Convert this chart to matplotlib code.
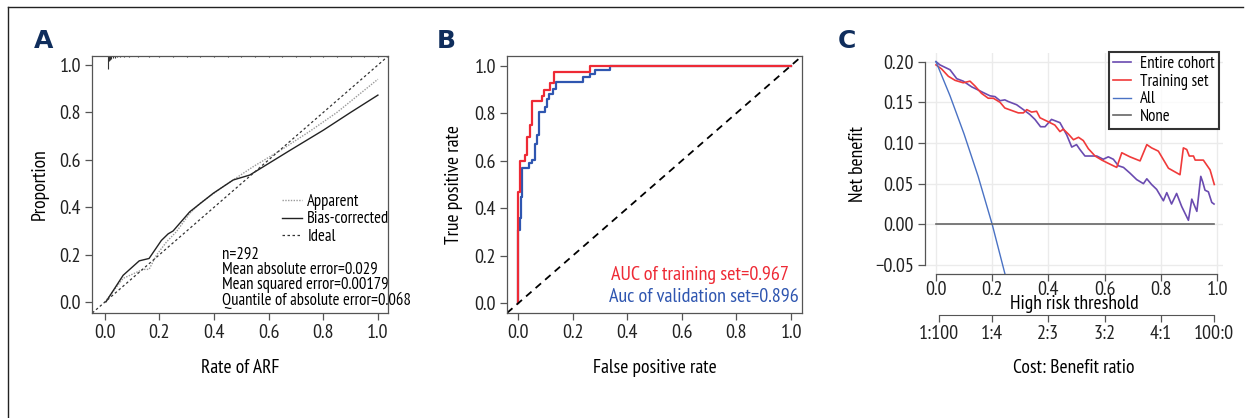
import matplotlib
matplotlib.use('Agg')
import matplotlib.pyplot as plt
from matplotlib.lines import Line2D
import numpy as np

plt.rcParams['font.family'] = ['PT Sans Narrow', 'Roboto Condensed', 'IBM Plex Sans Condensed', 'DejaVu Sans']

# ---- Panel A: calibration curve ----
apparent_x = [0.0, 0.067, 0.14, 0.162, 0.189, 0.226, 0.262, 0.311, 0.348, 0.433, 0.543, 0.65, 0.75, 0.85, 1.0]
apparent_y = [0.0, 0.10, 0.138, 0.138, 0.198, 0.254, 0.297, 0.374, 0.416, 0.487, 0.571, 0.645, 0.72, 0.80, 0.94]
biascorr_x = [0.004, 0.067, 0.126, 0.162, 0.207, 0.232, 0.25, 0.311, 0.397, 0.47, 0.531, 0.678, 0.80, 0.90, 1.0]
biascorr_y = [0.001, 0.113, 0.174, 0.184, 0.26, 0.288, 0.30, 0.381, 0.459, 0.515, 0.536, 0.64, 0.725, 0.80, 0.873]
rug_x = [0.012, 0.016, 0.02, 0.024, 0.03, 0.036, 0.045, 0.055, 0.07, 0.09, 0.12, 0.16, 0.2, 0.25, 0.3,
         0.35, 0.4, 0.45, 0.5, 0.55, 0.6, 0.65, 0.7, 0.75, 0.8, 0.85, 0.9, 0.95, 1.0]
rug_len = [0.055, 0.02, 0.015, 0.012, 0.01, 0.008, 0.006, 0.006, 0.005, 0.005, 0.004, 0.004, 0.004, 0.004, 0.004,
           0.004, 0.004, 0.004, 0.004, 0.004, 0.004, 0.004, 0.004, 0.004, 0.004, 0.004, 0.004, 0.004, 0.004]
calib_stats = ['n=292', 'Mean absolute error=0.029', 'Mean squared error=0.00179',
               'Quantile of absolute error=0.068']

# ---- Panel B: ROC curves ----
train_fpr = [0.0, 0.0, 0.009, 0.009, 0.027, 0.027, 0.035, 0.035, 0.044, 0.044, 0.050, 0.050, 0.087, 0.087, 0.095,
             0.095, 0.118, 0.118, 0.131, 0.131, 0.263, 0.263, 1.0]
train_tpr = [0.0, 0.47, 0.47, 0.60, 0.60, 0.623, 0.623, 0.70, 0.70, 0.749, 0.749, 0.851, 0.851, 0.874, 0.874,
             0.898, 0.898, 0.926, 0.926, 0.972, 0.972, 1.0, 1.0]
valid_fpr = [0.0, 0.0, 0.006, 0.006, 0.011, 0.011, 0.016, 0.016, 0.039, 0.039, 0.05, 0.05, 0.062, 0.062, 0.068,
             0.068, 0.078, 0.078, 0.1, 0.1, 0.105, 0.105, 0.114, 0.114, 0.13, 0.13, 0.141, 0.141, 0.238, 0.238,
             0.263, 0.263, 0.282, 0.282, 0.338, 0.338, 1.0]
valid_tpr = [0.0, 0.31, 0.31, 0.358, 0.358, 0.449, 0.449, 0.568, 0.568, 0.589, 0.589, 0.605, 0.605, 0.669, 0.669,
             0.707, 0.707, 0.805, 0.805, 0.826, 0.826, 0.861, 0.861, 0.882, 0.882, 0.90, 0.90, 0.93, 0.93, 0.951,
             0.951, 0.965, 0.965, 0.98, 0.98, 1.0, 1.0]

# ---- Panel C: decision curve ----
cohort_x = [0.0, 0.014, 0.05, 0.074, 0.097, 0.127, 0.145, 0.168, 0.192, 0.21, 0.228, 0.245, 0.257, 0.287, 0.311,
            0.334, 0.352, 0.372, 0.388, 0.411, 0.441, 0.465, 0.483, 0.5, 0.512, 0.53, 0.548, 0.572, 0.595, 0.613,
            0.631, 0.649, 0.667, 0.69, 0.714, 0.738, 0.75, 0.767, 0.785, 0.809, 0.821, 0.838, 0.856, 0.874, 0.898,
            0.91, 0.928, 0.942, 0.949, 0.957, 0.969, 0.981, 0.989]
cohort_y = [0.2, 0.196, 0.19, 0.179, 0.176, 0.169, 0.166, 0.162, 0.158, 0.157, 0.152, 0.153, 0.151, 0.147, 0.141,
            0.135, 0.129, 0.12, 0.12, 0.129, 0.125, 0.11, 0.095, 0.098, 0.092, 0.084, 0.084, 0.084, 0.08, 0.083,
            0.08, 0.072, 0.070, 0.063, 0.055, 0.050, 0.056, 0.049, 0.043, 0.029, 0.039, 0.025, 0.038, 0.022, 0.005,
            0.031, 0.016, 0.059, 0.052, 0.042, 0.040, 0.027, 0.025]
train_x = [0.0, 0.02, 0.044, 0.068, 0.097, 0.121, 0.139, 0.162, 0.186, 0.204, 0.228, 0.245, 0.269, 0.293, 0.311,
           0.323, 0.34, 0.358, 0.37, 0.4, 0.423, 0.441, 0.453, 0.471, 0.489, 0.507, 0.524, 0.542, 0.566, 0.59,
           0.613, 0.643, 0.661, 0.69, 0.726, 0.75, 0.767, 0.791, 0.827, 0.868, 0.88, 0.892, 0.901, 0.916, 0.922,
           0.951, 0.975, 0.99]
train_y = [0.196, 0.191, 0.182, 0.177, 0.174, 0.176, 0.170, 0.161, 0.155, 0.155, 0.150, 0.143, 0.140, 0.137, 0.137,
           0.141, 0.138, 0.139, 0.131, 0.126, 0.122, 0.114, 0.117, 0.111, 0.104, 0.107, 0.103, 0.093, 0.084, 0.079,
           0.075, 0.070, 0.088, 0.083, 0.078, 0.098, 0.094, 0.090, 0.069, 0.061, 0.094, 0.092, 0.084, 0.084, 0.079,
           0.079, 0.067, 0.049]
all_x = [0.0, 0.05, 0.1, 0.15, 0.2, 0.25]
all_y = [0.2, 0.158, 0.111, 0.059, 0.0, -0.067]
none_x = [0.0, 0.99]
none_y = [0.0, 0.0]
ratio_ticks = [0.01, 0.2, 0.4, 0.6, 0.8, 0.99]
ratio_labels = ['1:100', '1:4', '2:3', '3:2', '4:1', '100:0']

W, H = 1246, 418
fig = plt.figure(figsize=(W / 100, H / 100), dpi=100)

def px_axes(left, top, right, bottom):
    return fig.add_axes([left / W, 1 - bottom / H, (right - left) / W, (bottom - top) / H])

tick_fs = 14.5
label_fs = 14
small_fs = 12
frame_col = '#555555'
navy = '#0f2d5c'

def r_style(ax):
    for s in ax.spines.values():
        s.set_color(frame_col)
        s.set_linewidth(0.9)
    ax.tick_params(direction='out', length=5, width=0.9, color=frame_col, labelsize=tick_fs,
                   labelcolor='#222222', pad=3)

# ---------- A ----------
ax1 = px_axes(92, 56, 388, 313)
r_style(ax1)
ax1.plot(apparent_x, apparent_y, color='#9a9a9a', lw=1.0, ls=(0, (1, 1)), label='Apparent')
ax1.plot(biascorr_x, biascorr_y, color='#222222', lw=1.0, label='Bias-corrected')
ax1.axline((0, 0), (1, 1), color='#333333', lw=0.9, ls=(0, (2, 2)), label='Ideal')
ax1.set_xlim(-0.047, 1.037)
ax1.set_ylim(-0.046, 1.038)
top = ax1.get_ylim()[1]
ax1.vlines(rug_x, [top - l for l in rug_len], top, color='#333333', lw=0.8)
ax1.set_xticks([0, 0.2, 0.4, 0.6, 0.8, 1.0])
ax1.set_yticks([0, 0.2, 0.4, 0.6, 0.8, 1.0])
ax1.xaxis.set_major_formatter(matplotlib.ticker.FormatStrFormatter('%.1f'))
ax1.yaxis.set_major_formatter(matplotlib.ticker.FormatStrFormatter('%.1f'))
ax1.set_xlabel('Rate of ARF', fontsize=label_fs, labelpad=12)
ax1.set_ylabel('Proportion', fontsize=label_fs, labelpad=8)
ax1.legend(loc='upper left', bbox_to_anchor=(0.615, 0.495), frameon=False, fontsize=small_fs,
           handlelength=1.2, handletextpad=0.3, labelspacing=0.08, borderpad=0)
ax1.text(0.439, 0.015, '\n'.join(calib_stats), transform=ax1.transAxes, fontsize=small_fs,
         va='bottom', ha='left', linespacing=0.92)

# ---------- B ----------
ax2 = px_axes(507, 56, 802, 313)
r_style(ax2)
ax2.plot(valid_fpr, valid_tpr, color='#2f56b0', lw=1.6)
ax2.plot(train_fpr, train_tpr, color='#ee2a35', lw=1.6)
ax2.axline((0, 0), (1, 1), color='black', lw=1.3, ls=(0, (4, 3)))
ax2.set_xlim(-0.04, 1.04)
ax2.set_ylim(-0.04, 1.04)
ax2.set_xticks([0, 0.2, 0.4, 0.6, 0.8, 1.0])
ax2.set_yticks([0, 0.2, 0.4, 0.6, 0.8, 1.0])
ax2.xaxis.set_major_formatter(matplotlib.ticker.FormatStrFormatter('%.1f'))
ax2.yaxis.set_major_formatter(matplotlib.ticker.FormatStrFormatter('%.1f'))
ax2.set_xlabel('False positive rate', fontsize=label_fs, labelpad=12)
ax2.set_ylabel('True positive rate', fontsize=label_fs, labelpad=8)
ax2.text(0.955, 0.148, 'AUC of training set=0.967', transform=ax2.transAxes, color='#ee2a35',
         fontsize=tick_fs, ha='right', va='center')
ax2.text(0.99, 0.062, 'Auc of validation set=0.896', transform=ax2.transAxes, color='#2f56b0',
         fontsize=tick_fs, ha='right', va='center')

# ---------- C ----------
ax3 = px_axes(925, 53, 1223, 274)
r_style(ax3)
ax3.grid(True, color='#ebebeb', lw=1.0)
ax3.set_axisbelow(True)
ax3.plot(cohort_x, cohort_y, color='#6a4bb0', lw=1.2, label='Entire cohort')
ax3.plot(train_x, train_y, color='#f03a3a', lw=1.2, label='Training set')
ax3.plot(all_x, all_y, color='#4a72c4', lw=1.0, label='All')
ax3.plot(none_x, none_y, color='#666666', lw=1.2, label='None')
ax3.set_xlim(-0.039, 1.021)
ax3.set_ylim(-0.061, 0.2106)
ax3.spines['top'].set_visible(False)
ax3.spines['right'].set_visible(False)
ax3.spines['left'].set_bounds(-0.05, 0.20)
ax3.spines['bottom'].set_bounds(0, 1)
ax3.set_xticks([0, 0.2, 0.4, 0.6, 0.8, 1.0])
ax3.set_yticks([-0.05, 0, 0.05, 0.10, 0.15, 0.20])
ax3.xaxis.set_major_formatter(matplotlib.ticker.FormatStrFormatter('%.1f'))
ax3.set_yticklabels(['\u22120.05', '0.00', '0.05', '0.10', '0.15', '0.20'])
ax3.tick_params(axis='x', pad=0)
ax3.set_xlabel('High risk threshold', fontsize=label_fs, labelpad=-3)
ax3.set_ylabel('Net benefit', fontsize=label_fs, labelpad=6)
leg = ax3.legend(loc='upper right', bbox_to_anchor=(0.985, 1.005), fontsize=small_fs, fancybox=False,
                 edgecolor='black', handlelength=1.1, handletextpad=0.5, labelspacing=0.1,
                 borderpad=0.25, borderaxespad=0)
leg.get_frame().set_linewidth(1.5)

sec = ax3.secondary_xaxis(-0.1855)
sec.set_xticks(ratio_ticks)
sec.set_xticklabels(ratio_labels)
sec.spines['bottom'].set_color(frame_col)
sec.spines['bottom'].set_bounds(0.01, 0.99)
sec.tick_params(direction='out', length=5, width=0.9, color=frame_col, labelsize=tick_fs,
                labelcolor='#222222', pad=2)
sec.set_xlabel('Cost: Benefit ratio', fontsize=label_fs, labelpad=12)

# panel letters
for x, lab in [(34, 'A'), (437, 'B'), (838, 'C')]:
    fig.text(x / W, 1 - 41 / H, lab, fontsize=18, fontweight='bold', color=navy,
             family='DejaVu Sans', va='center', ha='left')

# partial frame (top and left)
fig.add_artist(Line2D([8 / W, 1243 / W], [1 - 7 / H, 1 - 7 / H], color='#222222', lw=1.0))
fig.add_artist(Line2D([8 / W, 8 / W], [1 - 7 / H, 0], color='#222222', lw=1.0))

fig.savefig('out.png', dpi=100)
